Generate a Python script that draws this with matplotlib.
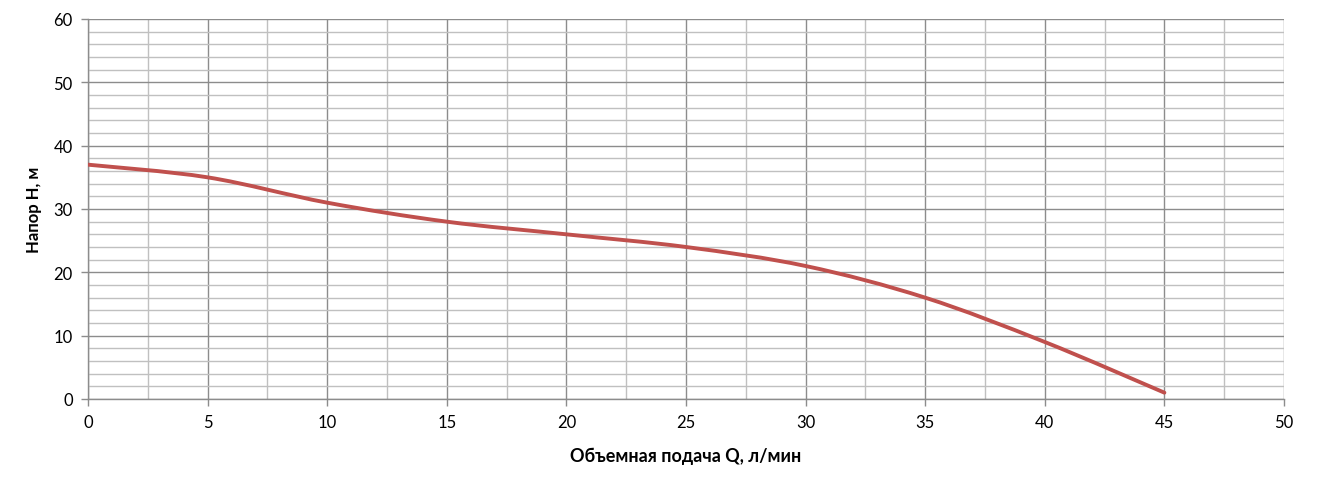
import numpy as np
import matplotlib
matplotlib.use("Agg")
import matplotlib.pyplot as plt
from matplotlib.path import Path
from matplotlib.patches import PathPatch
from matplotlib.ticker import MultipleLocator

# Data
flow_q = [0, 5, 10, 15, 20, 25, 30, 35, 40, 45]
head_h = [37, 35, 31, 28, 26, 24, 21, 16, 9, 1]

plt.rcParams['font.family'] = ['Lato', 'DejaVu Sans']


def smooth_path(x, y):
    # Excel-style smoothed line: cubic Bezier segments through each point
    pts = np.column_stack([x, y]).astype(float)
    n = len(pts)
    verts = [pts[0]]
    codes = [Path.MOVETO]
    for i in range(n - 1):
        p0 = pts[i - 1] if i > 0 else pts[i]
        p1 = pts[i]
        p2 = pts[i + 1]
        p3 = pts[i + 2] if i + 2 < n else pts[i + 1]
        c1 = p1 + (p2 - p0) / 6.0
        c2 = p2 - (p3 - p1) / 6.0
        verts += [c1, c2, p2]
        codes += [Path.CURVE4] * 3
    return Path(verts, codes)


fig = plt.figure(figsize=(13.2, 4.85), dpi=100)
ax = fig.add_axes([88 / 1320, 1 - 400 / 485, (1284 - 88) / 1320, 380 / 485])

ax.set_xlim(0, 50)
ax.set_ylim(0, 60)
ax.xaxis.set_major_locator(MultipleLocator(5))
ax.xaxis.set_minor_locator(MultipleLocator(2.5))
ax.yaxis.set_major_locator(MultipleLocator(10))
ax.yaxis.set_minor_locator(MultipleLocator(2))

ax.grid(True, which='major', color='#8c8c8c', linewidth=1.0)
ax.grid(True, which='minor', color='#c0c0c0', linewidth=1.0)
ax.set_axisbelow(True)

for side in ['top', 'right']:
    ax.spines[side].set_visible(False)
for side in ['left', 'bottom']:
    ax.spines[side].set_color('#8c8c8c')
    ax.spines[side].set_linewidth(1.0)

ax.tick_params(which='major', direction='out', length=5, width=1.0,
               color='#8c8c8c', labelsize=12, labelcolor='#000000', pad=6)
ax.tick_params(which='minor', length=0)

patch = PathPatch(smooth_path(flow_q, head_h), facecolor='none',
                  edgecolor='#c0504d', linewidth=2.8, capstyle='round',
                  joinstyle='round', zorder=3)
ax.add_patch(patch)

ax.set_xlabel('Объемная подача Q, л/мин', fontsize=13, fontweight='bold',
              labelpad=12)
ax.set_ylabel('Напор H, м', fontsize=12, fontweight='bold', labelpad=8)

fig.savefig('out.png', dpi=100)
